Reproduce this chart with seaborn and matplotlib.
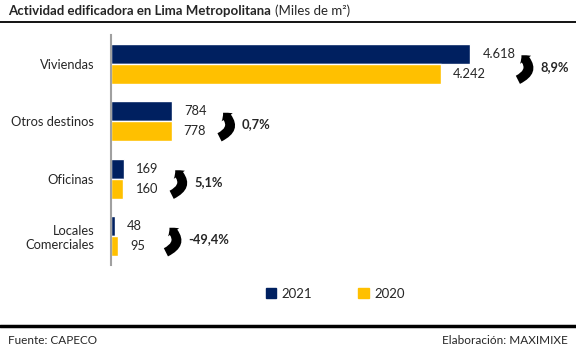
"""Actividad edificadora en Lima Metropolitana"""

import pandas as pd
import seaborn as sns
import matplotlib.pyplot as plt
from matplotlib.lines import Line2D
from matplotlib.patches import FancyArrowPatch

categories = ["Viviendas", "Otros destinos", "Oficinas", "Locales\nComerciales"]
values_2021 = [4618, 784, 169, 48]
values_2020 = [4242, 778, 160, 95]
labels_2021 = ["4.618", "784", "169", "48"]
labels_2020 = ["4.242", "778", "160", "95"]
changes = ["8,9%", "0,7%", "5,1%", "-49,4%"]
years = ["2021", "2020"]
colors = ["#002060", "#FFC000"]

df = pd.DataFrame({
    "cat": categories * 2,
    "year": [years[0]] * 4 + [years[1]] * 4,
    "value": values_2021 + values_2020,
})

sns.set_theme(style="white")
plt.rcParams["font.family"] = ["Lato", "DejaVu Sans"]

W, H = 576, 352
fig = plt.figure(figsize=(W / 100, H / 100), dpi=100)
ax = fig.add_axes([111 / W, 1 - 265 / H, 428 / W, 230 / H])

sns.barplot(data=df, y="cat", x="value", hue="year", palette=colors,
            orient="h", width=0.7, saturation=1, ax=ax, legend=False)
ax.set_xlim(0, 5500)
ax.set_ylim(3.5, -0.5)
ax.set_xlabel("")
ax.set_ylabel("")
ax.set_xticks([])
ax.tick_params(axis="y", length=0, pad=12, labelsize=9.3)
for s in ["top", "right", "bottom"]:
    ax.spines[s].set_visible(False)
ax.spines["left"].set_color("#a0a0a0")
ax.spines["left"].set_linewidth(1.5)

px = 5500 / 428  # data units per pixel
for i in range(len(categories)):
    ax.text(values_2021[i] + 12 * px, i - 0.175, labels_2021[i], va="center", fontsize=9.3)
    ax.text(values_2020[i] + 12 * px, i + 0.175, labels_2020[i], va="center", fontsize=9.3)
    m = max(values_2021[i], values_2020[i])
    # curved block arrow, thick at the bottom left, head at the top pointing left
    arr = FancyArrowPatch((m + 45 * px, i + 0.3), (m + 49 * px, i - 0.18),
                          connectionstyle="arc3,rad=0.8",
                          arrowstyle="simple,head_length=0.4,head_width=0.9,tail_width=0.6",
                          mutation_scale=11, color="black", lw=0)
    ax.add_patch(arr)
    ax.text(m + 70 * px, i + 0.05, changes[i], va="center", fontsize=9.3, fontweight="bold")

# title in two pieces
t1 = fig.text(8 / W, 1 - 11 / H, "Actividad edificadora en Lima Metropolitana",
              fontsize=9.5, fontweight="bold", va="center")
fig.canvas.draw()
bb = t1.get_window_extent()
fig.text((bb.x1 + 4) / W, 1 - 11 / H, "(Miles de m²)", fontsize=9.5, va="center")

fig.add_artist(Line2D([0, 1], [1 - 22 / H, 1 - 22 / H], color="black", lw=1.3))
fig.add_artist(Line2D([0, 1], [1 - 326 / H, 1 - 326 / H], color="black", lw=2.5))
fig.text(8 / W, 1 - 341 / H, "Fuente: CAPECO", fontsize=8.5, va="center")
fig.text(1 - 8 / W, 1 - 341 / H, "Elaboración: MAXIMIXE", fontsize=8.5, va="center", ha="right")

handles = [plt.Rectangle((0, 0), 1, 1, color=c) for c in colors]
fig.legend(handles, years, loc="center", bbox_to_anchor=(335 / W, 1 - 294 / H),
           ncol=2, frameon=False, fontsize=9.5, handlelength=0.8, handleheight=0.8,
           handletextpad=0.4, columnspacing=3.5)

plt.savefig("out.png", dpi=100)
